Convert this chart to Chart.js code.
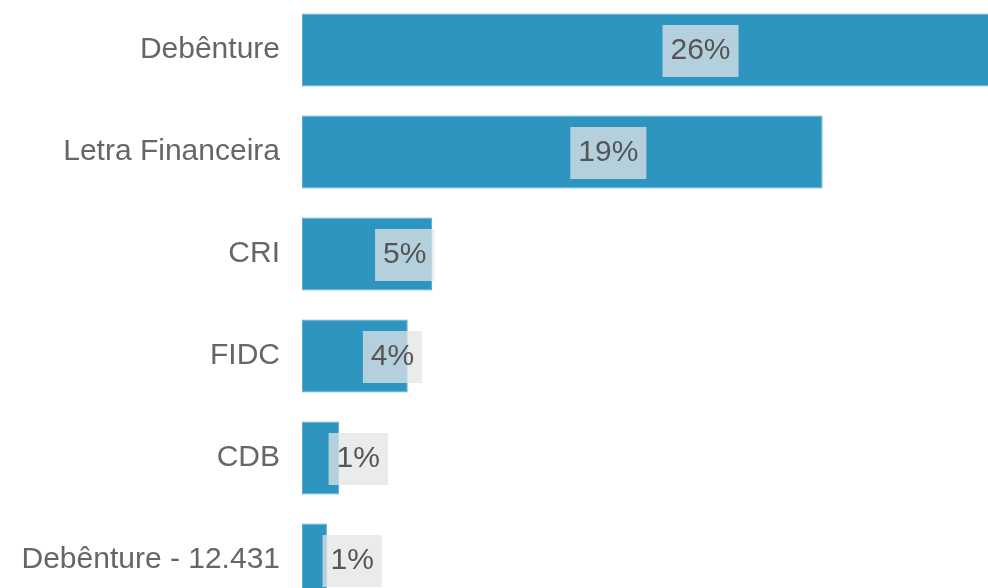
<!DOCTYPE html>
<html>
<head>
<meta charset="utf-8">
<script src="https://cdn.jsdelivr.net/npm/chart.js@4"></script>
<style>
  html, body { margin: 0; padding: 0; background: #fff; overflow: hidden; width: 988px; height: 588px; }
  #myChart { position: absolute; left: 0; top: -1px; }
</style>
</head>
<body>
<canvas id="myChart" width="988" height="612"></canvas>
<script>
  const categories = ['Debênture', 'Letra Financeira', 'CRI', 'FIDC', 'CDB', 'Debênture - 12.431'];
  const shares = [26.0, 19.2, 4.8, 3.9, 1.37, 0.92];
  const xMax = 25.3;

  // labels drawn on a semi transparent box, a bit right of the bar middle
  const boxLabels = {
    id: 'boxLabels',
    afterDatasetsDraw(chart) {
      const ctx = chart.ctx;
      const meta = chart.getDatasetMeta(0);
      const xScale = chart.scales.x;
      ctx.save();
      ctx.font = '30px "Liberation Sans", Arial, sans-serif';
      ctx.textAlign = 'center';
      ctx.textBaseline = 'middle';
      meta.data.forEach((bar, i) => {
        const v = shares[i];
        const text = Math.round(v) + '%';
        const w = ctx.measureText(text).width + 16;
        const left = xScale.getPixelForValue(v / 2) + 8;
        const cy = bar.y + 1;
        ctx.fillStyle = 'rgba(226, 229, 229, 0.74)';
        ctx.fillRect(left, cy - 26, w, 52);
        ctx.fillStyle = '#555555';
        ctx.fillText(text, left + w / 2, cy);
      });
      ctx.restore();
    }
  };

  const ctx = document.getElementById('myChart').getContext('2d');
  new Chart(ctx, {
    type: 'bar',
    data: {
      labels: categories,
      datasets: [{
        data: shares,
        backgroundColor: '#2e95c0',
        borderColor: '#5aaad0',
        borderWidth: 1,
        borderSkipped: false,
        categoryPercentage: 1,
        barPercentage: 0.716
      }]
    },
    options: {
      indexAxis: 'y',
      responsive: false,
      animation: false,
      layout: { padding: 0 },
      scales: {
        x: {
          display: false,
          min: 0,
          max: xMax
        },
        y: {
          grid: { display: false, drawTicks: false },
          border: { display: false },
          ticks: {
            padding: 22,
            color: '#666666',
            font: { family: '"Liberation Sans", Arial, sans-serif', size: 30 }
          },
          afterFit(scale) {
            scale.width = 302;
            scale.paddingTop = 0;
            scale.paddingBottom = 0;
          }
        }
      },
      plugins: {
        legend: { display: false },
        tooltip: { enabled: false }
      }
    },
    plugins: [boxLabels]
  });
</script>
</body>
</html>
